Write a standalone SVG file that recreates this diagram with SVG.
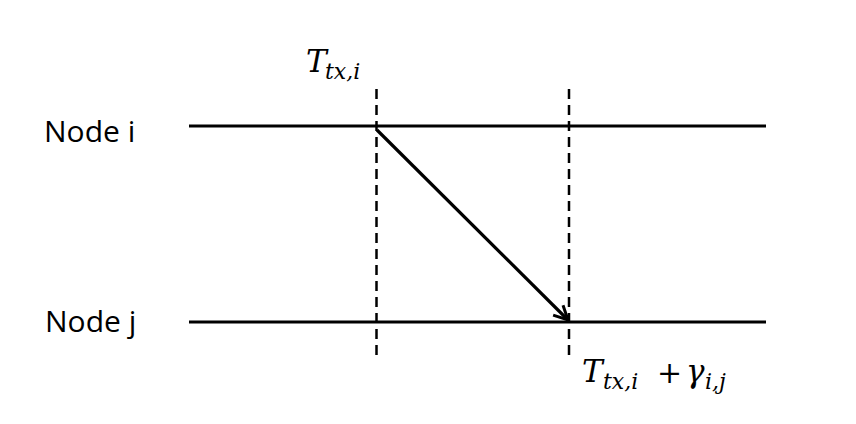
<svg xmlns="http://www.w3.org/2000/svg" width="856" height="424" viewBox="0 0 856 424">
<style>
.solid{stroke:#000;stroke-width:3.2;fill:none}
.dash{stroke:#000;stroke-width:2.5;stroke-dasharray:10 6;fill:none}
.lbl{font-family:"Open Sans","Liberation Sans",sans-serif;font-size:30px;fill:#000}
.math{font-family:"DejaVu Serif","Liberation Serif",serif;font-style:italic;fill:#000;font-size:31px}
.sub{font-size:22px}
.op{font-style:normal;font-size:30px}
</style>
<defs>
<marker id="arr" viewBox="0 0 20 20" refX="18" refY="10" markerWidth="20" markerHeight="20" markerUnits="userSpaceOnUse" orient="auto">
<path d="M4,3 L18,10 L4,17" fill="none" stroke="#000" stroke-width="3"/>
</marker>
</defs>
<rect width="856" height="424" fill="#fff"/>
<g id="node-i">
<line class="solid" x1="189" y1="126" x2="766" y2="126"/>
<text class="lbl" x="44" y="142">Node i</text>
</g>
<g id="node-j">
<line class="solid" x1="189" y1="322" x2="766" y2="322"/>
<text class="lbl" x="45" y="332">Node j</text>
</g>
<g id="time-markers">
<line class="dash" x1="376.5" y1="89" x2="376.5" y2="355"/>
<line class="dash" x1="569" y1="89" x2="569" y2="355"/>
<text class="math" x="306" y="72">T<tspan class="sub" x="325" y="79">tx,i</tspan></text>
<text class="math" x="582" y="382">T<tspan class="sub" x="603" y="389">tx,i</tspan><tspan class="op" x="657" y="383">+</tspan><tspan x="686" y="382">γ</tspan><tspan class="sub" x="705" y="389">i,j</tspan></text>
</g>
<g id="connectors">
<line class="solid" x1="377" y1="130" x2="568" y2="320" marker-end="url(#arr)"/>
</g>
</svg>
